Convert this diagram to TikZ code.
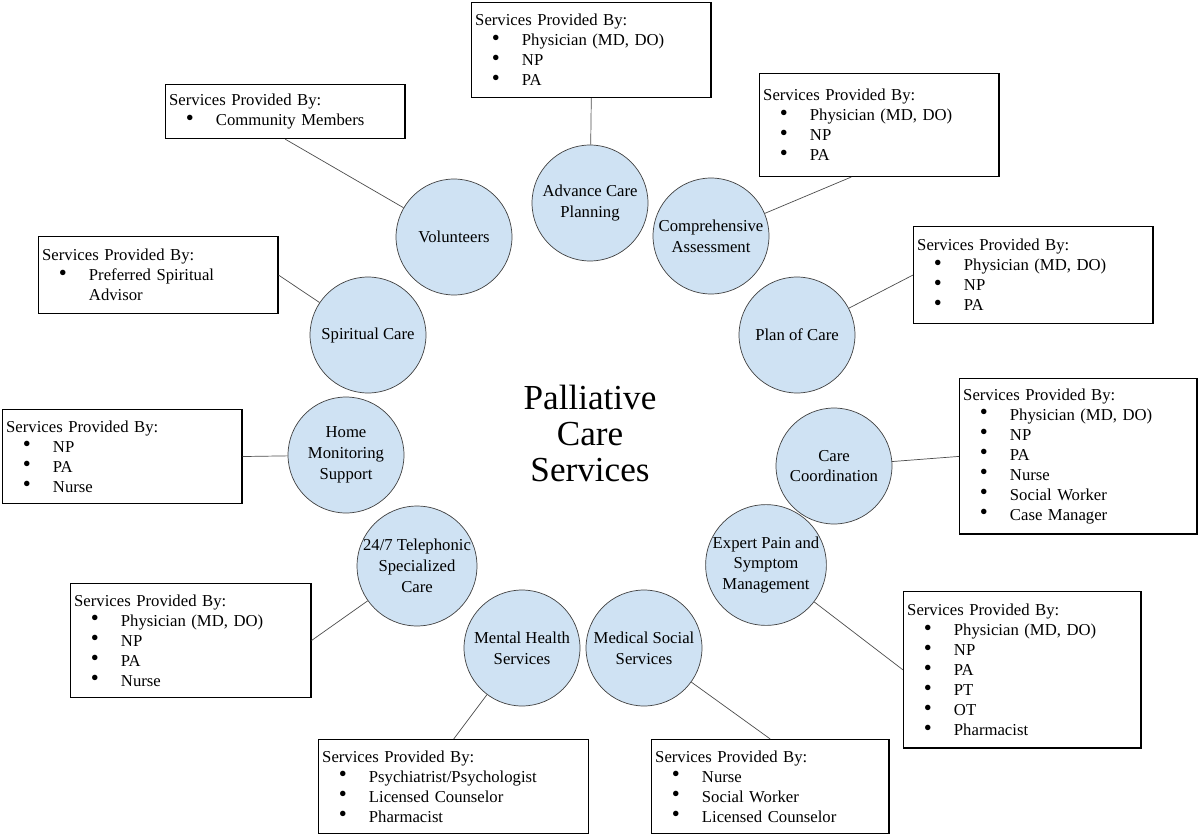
\documentclass[tikz,border=0pt]{standalone}
\usepackage{fontspec}
\setmainfont{Liberation Serif}
\usetikzlibrary{positioning,calc}
\definecolor{svcblue}{HTML}{CFE2F3}
\newcommand{\svc}[1]{\makebox[26.6pt][l]{\hspace{9.5pt}\smash{\raisebox{0.3pt}{\fontsize{13}{11.4}\selectfont\textbullet}}}#1}

\begin{document}
\begin{tikzpicture}[
    x=0.02cm, y=-0.02cm,
    svcnode/.style={circle, draw=black!75, fill=svcblue, minimum size=2.32cm, inner sep=0pt, align=center, font=\fontsize{9.5}{11.8}\selectfont},
    provbox/.style={rectangle, draw, thick, anchor=north west, align=left, inner xsep=2pt, inner ysep=3pt, font=\fontsize{9.5}{11.4}\selectfont},
    link/.style={black!70}
]
\useasboundingbox (0,0) rectangle (1199,838);

% Center title
\node[align=center, font=\fontsize{20}{20.5}\selectfont] (title) at (590,433) {Palliative\\Care\\Services};

% Service circles
\node[svcnode] (acp) at (590,203) {Advance Care\\Planning};
\node[svcnode] (comp) at (711,236) {Comprehensive\\Assessment};
\node[svcnode] (plan) at (797,335) {Plan of Care};
\node[svcnode] (coord) at (834,466) {Care\\Coordination};
\node[svcnode] (pain) at (766,565) {Expert Pain and\\Symptom\\Management};
\node[svcnode] (social) at (644,648) {Medical Social\\Services};
\node[svcnode] (mental) at (522,648) {Mental Health\\Services};
\node[svcnode] (phone) at (417,566) {24/7 Telephonic\\Specialized\\Care};
\node[svcnode] (home) at (346,455) {Home\\Monitoring\\Support};
\node[svcnode] (spirit) at (368,335) {Spiritual Care};
\node[svcnode] (vol) at (454,237) {Volunteers};

% Provider boxes
\node[provbox, text width=233*0.567pt, minimum height=95*0.567pt] (acpbox) at (471,2) {Services Provided By:\\\svc{Physician (MD, DO)}\\\svc{NP}\\\svc{PA}};
\node[provbox, text width=233*0.567pt, minimum height=54*0.567pt] (volbox) at (165,84) {Services Provided By:\\\svc{Community Members}};
\node[provbox, text width=233*0.567pt, minimum height=103*0.567pt] (compbox) at (759,73) {Services Provided By:\\\svc{Physician (MD, DO)}\\\svc{NP}\\\svc{PA}};
\node[provbox, text width=233*0.567pt, minimum height=77*0.567pt] (spiritbox) at (38,236) {Services Provided By:\\\svc{Preferred Spiritual}\\\hspace*{26.6pt}Advisor};
\node[provbox, text width=233*0.567pt, minimum height=97*0.567pt] (planbox) at (913,226) {Services Provided By:\\\svc{Physician (MD, DO)}\\\svc{NP}\\\svc{PA}};
\node[provbox, text width=233*0.567pt, minimum height=94*0.567pt] (homebox) at (2,409) {Services Provided By:\\\svc{NP}\\\svc{PA}\\\svc{Nurse}};
\node[provbox, text width=231*0.567pt, minimum height=156*0.567pt] (coordbox) at (959,378) {Services Provided By:\\\svc{Physician (MD, DO)}\\\svc{NP}\\\svc{PA}\\\svc{Nurse}\\\svc{Social Worker}\\\svc{Case Manager}};
\node[provbox, text width=234*0.567pt, minimum height=114*0.567pt] (phonebox) at (70,583) {Services Provided By:\\\svc{Physician (MD, DO)}\\\svc{NP}\\\svc{PA}\\\svc{Nurse}};
\node[provbox, text width=231*0.567pt, minimum height=157*0.567pt] (painbox) at (903,591) {Services Provided By:\\\svc{Physician (MD, DO)}\\\svc{NP}\\\svc{PA}\\\svc{PT}\\\svc{OT}\\\svc{Pharmacist}};
\node[provbox, text width=264*0.567pt, minimum height=94*0.567pt] (mentalbox) at (318,739) {Services Provided By:\\\svc{Psychiatrist/Psychologist}\\\svc{Licensed Counselor}\\\svc{Pharmacist}};
\node[provbox, text width=231*0.567pt, minimum height=94*0.567pt] (socialbox) at (651,739) {Services Provided By:\\\svc{Nurse}\\\svc{Social Worker}\\\svc{Licensed Counselor}};

% Connectors
\coordinate (compend) at ($(compbox.south)+(-28,0)$);
\draw[link] (acp) -- (acpbox.south);
\draw[link] (vol) -- (volbox.south);
\draw[link] (comp) -- (compend);
\draw[link] (spirit) -- (spiritbox.east);
\draw[link] (plan) -- (planbox.west);
\draw[link] (home) -- (homebox.east);
\draw[link] (coord) -- (coordbox.west);
\draw[link] (phone) -- (phonebox.east);
\draw[link] (pain) -- (painbox.west);
\draw[link] (mental) -- (mentalbox.north);
\draw[link] (social) -- (socialbox.north);

\end{tikzpicture}
\end{document}
